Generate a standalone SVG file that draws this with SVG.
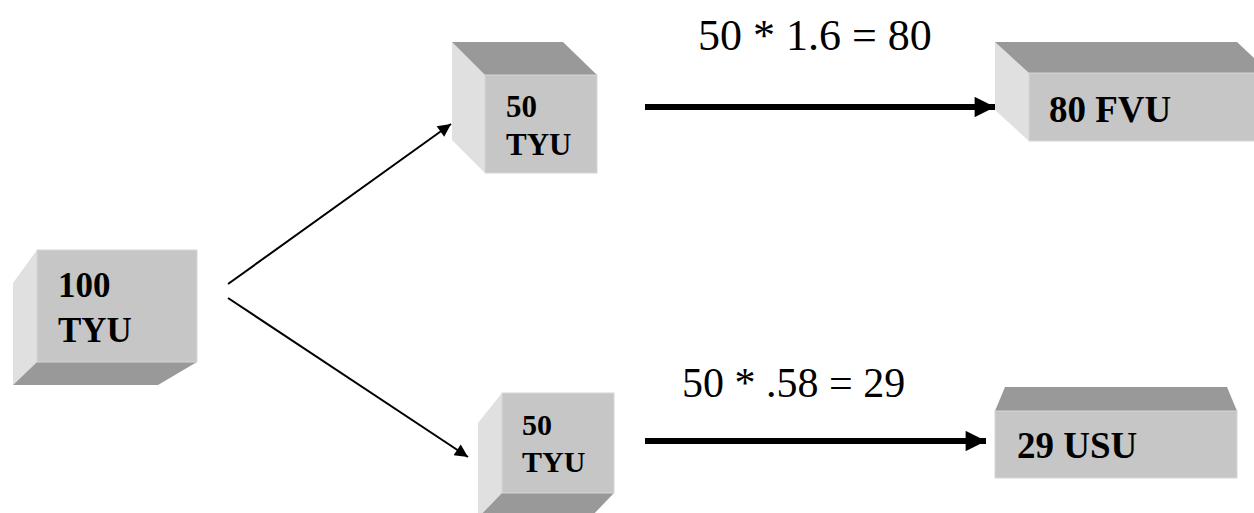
<svg xmlns="http://www.w3.org/2000/svg" width="1254" height="513" viewBox="0 0 1254 513">
  <style>
    .front { fill: #c6c6c6; stroke: #d6d6d6; stroke-width: 1; }
    .side { fill: #e0e0e0; }
    .shade { fill: #999999; }
    .lbl { font-family: "Liberation Serif", "Times New Roman", serif; font-weight: bold; fill: #000; }
    .eq { font-family: "Liberation Serif", "Times New Roman", serif; fill: #000; }
    .thin { stroke: #000; stroke-width: 2; fill: none; }
    .thick { stroke: #000; stroke-width: 6; fill: none; }
  </style>
  <defs>
    <marker id="headThin" viewBox="0 0 10 10" refX="10" refY="5" markerWidth="7.5" markerHeight="6.5" markerUnits="strokeWidth" orient="auto">
      <path d="M0,0 L10,5 L0,10 z" fill="#000"/>
    </marker>
    <marker id="headThick" viewBox="0 0 10 10" refX="10" refY="5" markerWidth="4.8" markerHeight="3.4" markerUnits="strokeWidth" orient="auto">
      <path d="M0,0 L10,5 L0,10 z" fill="#000"/>
    </marker>
  </defs>
  <rect width="1254" height="513" fill="#fff"/>

  <!-- source block -->
  <g id="src">
    <polygon class="side" points="37,250 37,362 13,385 13,283"/>
    <polygon class="shade" points="37,362 197,362 158,385 13,385"/>
    <rect class="front" x="37" y="250" width="160" height="112"/>
    <text class="lbl" x="58" y="297" font-size="35">100</text>
    <text class="lbl" x="58" y="342" font-size="35">TYU</text>
  </g>

  <!-- upper split block -->
  <g id="splitTop">
    <polygon class="side" points="452,42 485,75 485,173 452,140"/>
    <polygon class="shade" points="452,42 563,42 597,75 485,75"/>
    <rect class="front" x="485" y="75" width="112" height="98"/>
    <text class="lbl" x="506" y="117" font-size="31">50</text>
    <text class="lbl" x="506" y="155" font-size="31">TYU</text>
  </g>

  <!-- lower split block -->
  <g id="splitBottom">
    <polygon class="side" points="502,393 502,493 478,520 478,423"/>
    <polygon class="shade" points="502,493 614,493 590,518 478,518"/>
    <rect class="front" x="502" y="393" width="112" height="100"/>
    <text class="lbl" x="522" y="435" font-size="30">50</text>
    <text class="lbl" x="522" y="472" font-size="30">TYU</text>
  </g>

  <!-- FVU result block -->
  <g id="fvu">
    <polygon class="side" points="995,42 1029,73 1029,141 995,110"/>
    <polygon class="shade" points="995,42 1237,42 1270,73 1029,73"/>
    <rect class="front" x="1029" y="73" width="240" height="68"/>
    <text class="lbl" x="1049" y="122" font-size="37">80 FVU</text>
  </g>

  <!-- USU result block -->
  <g id="usu">
    <polygon class="shade" points="1005,387 1227,387 1237,411 995,411"/>
    <rect class="front" x="995" y="411" width="242" height="67"/>
    <text class="lbl" x="1017" y="458" font-size="37">29 USU</text>
  </g>

  <!-- conversion labels -->
  <g id="labels">
    <text class="eq" x="698" y="50" font-size="44">50 * 1.6 = 80</text>
    <text class="eq" x="682" y="397" font-size="42">50 * .58 = 29</text>
  </g>

  <!-- connectors -->
  <g id="connectors">
    <line class="thin" x1="228" y1="284" x2="451" y2="124" marker-end="url(#headThin)"/>
    <line class="thin" x1="228" y1="298" x2="468" y2="457" marker-end="url(#headThin)"/>
    <line class="thick" x1="645" y1="107" x2="995" y2="107" marker-end="url(#headThick)"/>
    <line class="thick" x1="645" y1="441" x2="986" y2="441" marker-end="url(#headThick)"/>
  </g>
</svg>
